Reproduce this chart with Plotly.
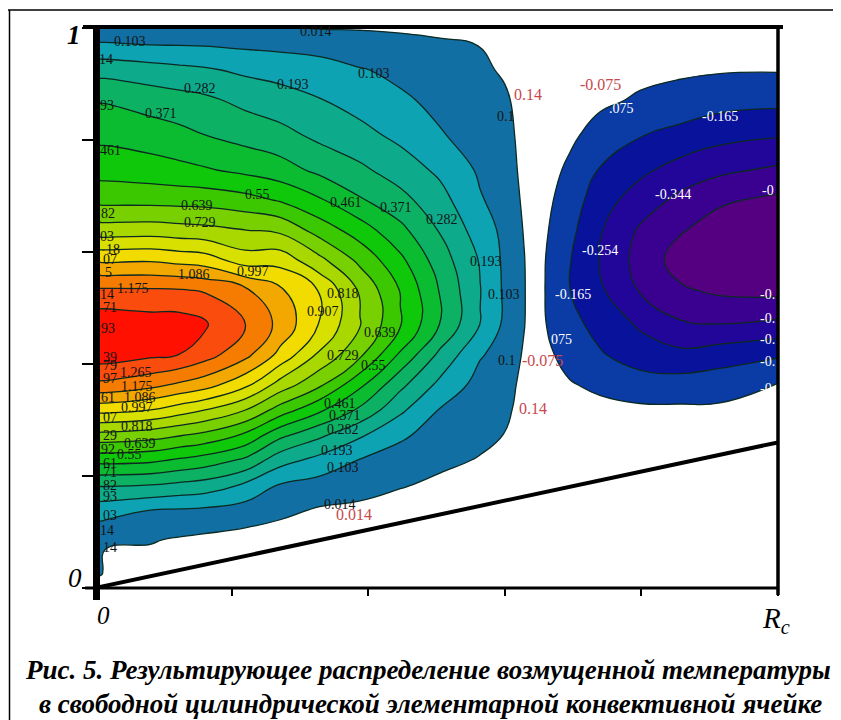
import numpy as np
import plotly.graph_objects as go

# Grid of the temperature field (r / Rc, z / H)
x_grid = [0, .010, .015, .081, .124, .161, .220, .271, .329, .388, .447, .505, .564, .600, .628, .659, .695, .739, .798, .857, .915, 1]
y_grid = [1.0, .970, .925, .871, .809, .746, .693, .639, .586, .532, .470, .416, .363, .318, .273, .229, .184, .139, .086, .032, 0]

z_columns = [
    [.03, .115, .25, .364, .437, .515, .611, .767, .976, 1.186, 1.33, 1.31, 1.153, .937, .699, .493, .291, .139, .04, .03, -.03],
    [.03, .115, .25, .364, .437, .515, .611, .767, .976, 1.186, 1.33, 1.31, 1.153, .937, .699, .493, .291, .139, .04, .03, -.03],
    [.03, .115, .25, .364, .437, .515, .611, .767, .976, 1.186, 1.33, 1.31, 1.153, .937, .699, .493, .291, .139, .03, -.02, -.03],
    [.035, .103, .23, .332, .416, .50, .609, .773, .984, 1.184, 1.31, 1.28, 1.113, .907, .677, .482, .282, .103, .02, -.02, -.03],
    [.033, .10, .215, .315, .395, .485, .606, .762, .965, 1.18, 1.31, 1.262, 1.07, .86, .645, .45, .262, .095, .005, -.03, -.03],
    [.03, .097, .204, .30, .371, .47, .603, .753, .95, 1.165, 1.278, 1.21, 1.034, .818, .615, .423, .245, .087, -.005, -.03, -.03],
    [.025, .087, .175, .258, .338, .44, .58, .729, .86, 1.10, 1.175, 1.11, .93, .729, .534, .356, .18, .064, -.02, -.03, -.03],
    [.02, .08, .16, .23, .31, .41, .54, .71, .87, 1.01, 1.06, .97, .78, .60, .395, .23, .098, .035, -.03, -.03, -.03],
    [.01, .07, .14, .197, .26, .35, .47, .60, .75, .90, .90, .80, .655, .476, .30, .165, .07, .005, -.03, -.03, -.03],
    [.01, .04, .11, .157, .22, .30, .38, .505, .615, .715, .732, .655, .48, .355, .205, .10, .055, -.01, -.03, -.03, -.03],
    [.005, .035, .08, .118, .17, .24, .31, .395, .48, .545, .555, .445, .305, .21, .12, .06, .02, -.02, -.03, -.03, -.03],
    [-.01, .03, .06, .08, .11, .175, .225, .275, .325, .365, .368, .26, .17, .098, .06, .03, .00, -.03, -.03, -.03, -.03],
    [-.03, .012, .035, .05, .065, .09, .11, .15, .185, .195, .19, .11, .07, .05, .03, .01, -.03, -.03, -.03, -.03, -.03],
    [-.03, -.02, .0, .03, .05, .06, .07, .08, .085, .088, .085, .07, .05, .035, .012, -.01, -.03, -.03, -.03, -.03, -.03],
    [-.03, -.03, -.03, -.025, -.02, -.01, 0, .01, .018, .02, .018, .005, -.01, -.02, -.03, -.03, -.03, -.03, -.03, -.03, -.03],
    [-.03, -.03, -.03, -.03, -.035, -.045, -.055, -.065, -.074, -.076, -.072, -.06, -.045, -.03, -.03, -.03, -.03, -.03, -.03, -.03, -.03],
    [-.03, -.03, -.03, -.035, -.06, -.09, -.115, -.14, -.16, -.163, -.135, -.10, -.07, -.04, -.03, -.03, -.03, -.03, -.03, -.03, -.03],
    [-.03, -.035, -.04, -.06, -.105, -.17, -.215, -.245, -.255, -.24, -.195, -.155, -.09, -.055, -.035, -.03, -.03, -.03, -.03, -.03, -.03],
    [-.03, -.04, -.055, -.085, -.16, -.235, -.295, -.355, -.375, -.35, -.265, -.21, -.12, -.06, -.035, -.03, -.03, -.03, -.03, -.03, -.03],
    [-.03, -.045, -.06, -.11, -.19, -.29, -.365, -.425, -.47, -.42, -.33, -.23, -.125, -.06, -.04, -.03, -.03, -.03, -.03, -.03, -.03],
    [-.03, -.045, -.068, -.13, -.225, -.325, -.42, -.47, -.50, -.45, -.34, -.205, -.115, -.06, -.04, -.03, -.03, -.03, -.03, -.03, -.03],
    [-.03, -.045, -.07, -.14, -.245, -.36, -.45, -.49, -.51, -.46, -.32, -.175, -.07, -.05, -.04, -.03, -.03, -.03, -.03, -.03, -.03],
]
outside_value = -.03   # the white band, just beyond the left and top of the frame

levels = [-.5215, -.4323, -.343, -.2538, -.1645, -.0753, .014, .103, .1925, .2818, .371, .4603, .5495,
          .6388, .728, .8173, .9065, .9958, 1.085, 1.1743, 1.2635]
band_colors = ["#540080", "#3a008f", "#22069a", "#08129a", "#0b3ba5", "#ffffff", "#126fa3",
               "#0ea3b3", "#0eaa8c", "#0db164", "#0cbc30", "#10c80a", "#3cc800", "#78d000",
               "#a8d800", "#d8e000", "#f2dc00", "#f2a800", "#f57c00", "#fa4c0c", "#ff1000"]

wedge_x = [0, 1]
wedge_y = [0, 0.26]

label_black = [
    ("0.103", 130, 41), ("14", 106, 59), ("93", 107, 105), ("0.282", 200, 89), ("0.193", 293, 85),
    ("0.371", 161, 114), ("0.014", 316, 31), ("0.103", 374, 73), ("461", 110, 150), ("0.55", 257, 195),
    ("0.639", 197, 206), ("0.729", 200, 222), ("82", 108, 213), ("03", 107, 237), ("18", 113, 249),
    ("07", 110, 260), ("5", 108, 272), ("1.086", 194, 274), ("0.997", 253, 271), ("1.175", 133, 288),
    ("14", 107, 295), ("71", 110, 307), ("93", 108, 328), ("39", 110, 357), ("79", 110, 366),
    ("97", 110, 378), ("1.265", 136, 372), ("1.175", 137, 386), ("61", 108, 397), ("1.086", 140, 397),
    ("0.997", 137, 407), ("07", 110, 417), ("0.818", 137, 426), ("29", 110, 435), ("92", 108, 449),
    ("0.639", 140, 443), ("0.55", 130, 454), ("61", 110, 463), ("71", 110, 473), ("82", 110, 485),
    ("93", 110, 496), ("03", 110, 515), ("14", 107, 530), ("14", 110, 547),
    ("0.461", 346, 203), ("0.371", 396, 207), ("0.282", 442, 220), ("0.193", 486, 262), ("0.818", 343, 293),
    ("0.907", 323, 312), ("0.103", 504, 295), ("0.639", 380, 332), ("0.729", 343, 355), ("0.55", 373, 365),
    ("0.461", 340, 403), ("0.371", 345, 415), ("0.282", 343, 430), ("0.193", 337, 450), ("0.103", 343, 467),
    ("0.014", 340, 505), ("0.1", 506, 117), ("0.1", 507, 360),
]
label_white = [
    (".075", 621, 108), ("-0.165", 720, 117), ("-0.344", 673, 195), ("-0", 768, 190), ("-0.254", 600, 251),
    ("-0.165", 573, 295), ("075", 561, 340), ("-0.", 767, 295), ("-0.", 767, 318), ("-0.", 767, 340),
    ("-0.", 767, 362), ("-0.", 767, 388),
]
label_red = [
    ("0.014", 354, 514), ("0.14", 528, 94), ("0.14", 533, 408), ("-0.075", 542, 360), ("-0.075", 600, 85),
]

caption = ["Рис. 5. Результирующее распределение возмущенной температуры",
           "в свободной цилиндрической элементарной конвективной ячейке"]

PAGE = 8                       # the page's own margin around the figure
W, H = 841 - PAGE, 720 - PAGE
X0, X1, Y1, Y0 = 95, 778, 28, 588   # plot frame in window pixels
SERIF = "Liberation Serif"

z = np.pad(np.array(z_columns).T, ((1, 0), (1, 0)), constant_values=outside_value)
fig = go.Figure()
# one contour trace per level: each paints everything above its level, lowest level first
for level, color in zip(levels, band_colors):
    fig.add_trace(go.Contour(
        x=[-.02] + x_grid, y=[1.02] + y_grid, z=z,
        colorscale=[[0, "rgba(0,0,0,0)"], [.001, "rgba(0,0,0,0)"], [.001, color], [1, color]],
        showscale=False, hoverinfo="skip", autocontour=False,
        contours=dict(start=level, end=level, size=1, coloring="fill", showlabels=False),
        line=dict(color="#0c2a22", width=1.3, smoothing=1.3),
    ))
fig.add_trace(go.Scatter(x=wedge_x, y=wedge_y, mode="lines", line=dict(color="black", width=4),
                         showlegend=False, hoverinfo="skip", cliponaxis=False))


def px(x):
    return (x - PAGE) / W


def py(y):
    return 1 - (y - PAGE) / H


def px_note(text, x, y, color="black", size=14, **kw):
    fig.add_annotation(text=text, x=px(x), y=py(y), xref="paper", yref="paper", showarrow=False,
                       font=dict(family=SERIF, size=size, color=color), xanchor="center", yanchor="middle", **kw)


for t, x, y in label_black:
    px_note(t, x, y, "#141414")
for t, x, y in label_white:
    px_note(t, x, y, "white")
for t, x, y in label_red:
    px_note(t, x, y, "#c8484c", 16)

px_note("<b><i>1</i></b>", 74, 35, size=27)
px_note("<i>0</i>", 75, 578, size=27)
px_note("<i>0</i>", 103, 615, size=25)
px_note("<i>R<sub>c</sub></i>", 776, 620, size=29)
for i, (line, cx) in enumerate(zip(caption, [428, 430])):
    px_note(f"<b><i>{line}</i></b>", cx, 670 + 34 * i, size=27)


def seg(x0, y0, x1, y1, w):
    fig.add_shape(type="line", xref="paper", yref="paper", x0=px(x0), x1=px(x1), y0=py(y0), y1=py(y1),
                  line=dict(color="black", width=w))


seg(96.5, 27, 96.5, 600, 7)   # left axis
seg(83, 27, 783, 27, 4)       # top axis
seg(85, 588, 778, 588, 3)     # bottom axis
seg(778, 27, 778, 595, 3.5)   # right axis
seg(8, 10, 841, 10, 1.5)      # picture frame, top
seg(9.5, 10, 9.5, 720, 1.5)   # picture frame, left

fig.update_xaxes(domain=[px(X0), px(X1)], range=[0, 1], showgrid=False, zeroline=False, showline=False,
                 ticks="outside", tickvals=[.2, .4, .6, .8, 1], showticklabels=False, ticklen=7, tickwidth=1.5,
                 tickcolor="black")
fig.update_yaxes(domain=[py(Y0), py(Y1)], range=[0, 1], showgrid=False, zeroline=False, showline=False,
                 ticks="outside", tickvals=[0, .2, .4, .6, .8, 1], showticklabels=False, ticklen=12, tickwidth=2,
                 tickcolor="black")
fig.update_layout(width=W, height=H, margin=dict(l=0, r=0, t=0, b=0), paper_bgcolor="white", plot_bgcolor="white",
                  showlegend=False)
fig.write_html("out.html")
